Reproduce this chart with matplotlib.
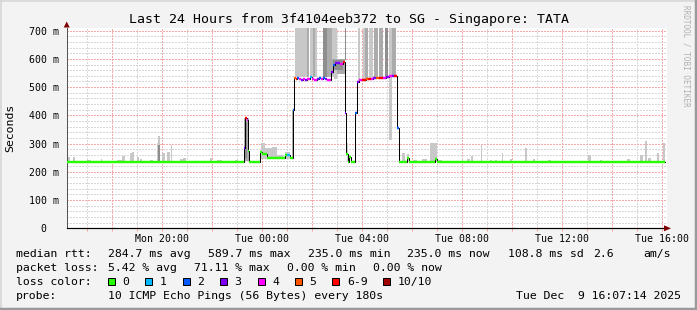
import matplotlib
matplotlib.use("Agg")
import matplotlib.pyplot as plt
from matplotlib.patches import Rectangle, Polygon
from matplotlib.lines import Line2D

W, H = 697, 310
FONT = "DejaVu Sans Mono"
plt.rcParams["font.family"] = [FONT]

# ---------------- data (hours relative to Tue 00:00) ----------------
X_START, X_END = -7.81, 16.19
END_T = 16.12

# median rtt step series: start time of each step, value (ms), loss count (of 10)
med_t = [-7.81, -0.71, -0.67, -0.61, -0.56, -0.50, -0.07, 0.00, 0.19, 0.93,
         1.00, 1.13, 1.24, 1.30, 1.36, 1.42, 1.50, 1.58, 1.66, 1.74,
         1.82, 1.92, 2.01, 2.10, 2.19, 2.28, 2.36, 2.44, 2.52, 2.60,
         2.70, 2.78, 2.85, 2.92, 3.12, 3.24, 3.33, 3.37, 3.44, 3.50,
         3.56, 3.73, 3.79, 3.88, 4.00, 4.16, 4.25, 4.36, 4.46, 4.56,
         4.68, 4.84, 4.96, 5.08, 5.20, 5.28, 5.39, 5.49, 5.79, 5.87,
         6.92, 6.99]
med_v = [236, 283, 392, 383, 273, 236, 272, 262, 248, 258,
         261, 248, 419, 531, 529, 532, 528, 526, 529, 527,
         530, 536, 530, 527, 529, 531, 528, 532, 529, 527,
         524, 555, 578, 585, 583, 589, 408, 262, 236, 254,
         236, 408, 519, 524, 527, 529, 528, 530, 531, 531,
         532, 534, 537, 539, 540, 538, 354, 236, 250, 236,
         244, 235]
med_loss = [0, 3, 6, 4, 0, 0, 0, 0, 0, 0,
            1, 0, 2, 5, 6, 2, 4, 3, 4, 3,
            4, 1, 4, 4, 3, 2, 4, 2, 3, 4,
            4, 3, 2, 3, 4, 6, 3, 0, 0, 0,
            0, 2, 3, 4, 6, 5, 6, 4, 3, 5,
            6, 4, 3, 4, 3, 6, 2, 0, 0, 0,
            0, 0]

# smoke (spread of individual pings): start, end, low, high, tone (0 light .. 2 dark)
smoke_t0 = [-7.80, -7.57, -7.00, -6.45, -5.80, -5.60, -5.28, -5.21, -5.00, -4.88,
            -4.48, -4.21, -4.17, -4.17, -4.01, -3.81, -3.64, -3.28, -3.15, -2.08,
            -1.81, -1.08, -0.72, -0.68, -0.04, 0.12, 0.39, 0.59, 0.92, 1.20,
            1.32, 1.81, 1.92, 2.03, 2.43, 2.59, 2.79, 3.32, 2.78, 2.85,
            2.90, 3.39, 3.85, 4.05, 4.12, 4.29, 4.49, 4.69, 4.92, 5.09,
            5.19, 5.59, 5.80, 6.04, 6.39, 6.72, 7.04, 7.99, 8.19, 8.36,
            8.75, 9.12, 9.32, 9.59, 9.92, 10.52, 10.84, 11.45, 13.05, 13.52,
            14.59, 15.12, 15.32, 15.45, 15.81, 16.03]
smoke_t1 = [-7.68, -7.48, -6.84, -6.40, -5.60, -5.48, -5.20, -5.12, -4.92, -4.80,
            -4.36, -4.17, -4.08, -4.08, -3.88, -3.68, -3.60, -3.16, -3.05, -2.00,
            -1.61, -0.96, -0.52, -0.58, 0.12, 0.39, 0.59, 0.84, 1.12, 1.28,
            1.81, 1.89, 2.21, 2.14, 2.59, 2.79, 3.01, 3.36, 3.33, 3.25,
            3.00, 3.45, 3.92, 4.19, 4.24, 4.45, 4.65, 4.85, 5.05, 5.19,
            5.36, 5.72, 5.88, 6.19, 6.59, 6.99, 7.19, 8.05, 8.32, 8.43,
            8.81, 9.19, 9.39, 9.65, 9.99, 10.59, 10.92, 11.55, 13.15, 13.59,
            14.72, 15.23, 15.39, 15.55, 15.89, 16.12]
smoke_lo = [237, 237, 237, 237, 237, 237, 237, 237, 237, 237,
            237, 237, 237, 237, 237, 237, 237, 237, 237, 237,
            237, 237, 237, 250, 245, 246, 246, 246, 246, 248,
            535, 535, 535, 535, 535, 535, 535, 595, 548, 560,
            530, 236, 522, 526, 526, 530, 531, 533, 537, 312,
            540, 236, 236, 236, 236, 236, 236, 236, 236, 236,
            236, 236, 236, 236, 236, 236, 236, 236, 236, 236,
            236, 236, 236, 236, 236, 236]
smoke_hi = [254, 251, 242, 245, 242, 256, 265, 270, 251, 245,
            242, 301, 327, 295, 265, 271, 295, 245, 249, 250,
            243, 242, 392, 375, 301, 285, 289, 258, 271, 420,
            720, 720, 720, 720, 720, 720, 720, 720, 600, 595,
            560, 301, 720, 720, 720, 720, 720, 720, 720, 720,
            720, 268, 262, 243, 245, 303, 243, 250, 245, 256,
            295, 243, 243, 265, 245, 283, 245, 243, 261, 242,
            245, 261, 309, 250, 265, 303]
smoke_tone = [0, 0, 0, 0, 0, 0, 0, 0, 0, 0,
              0, 0, 0, 2, 0, 0, 0, 0, 0, 0,
              0, 0, 1, 2, 0, 0, 0, 0, 0, 1,
              0, 1, 0, 1, 2, 1, 0, 2, 1, 2,
              0, 0, 0, 0, 1, 0, 1, 1, 2, 0,
              1, 0, 0, 0, 0, 0, 0, 0, 0, 0,
              0, 0, 0, 0, 0, 0, 0, 0, 0, 0,
              0, 0, 0, 0, 0, 0]

loss_colors = ["#26ff00", "#00b8ff", "#0059ff", "#7e00ff", "#ff00ff",
               "#ff5500", "#ff0000", "#a10000"]
loss_labels = ["0", "1", "2", "3", "4", "5", "6-9", "10/10"]
tone_colors = ["#c8c8c8", "#ababab", "#8e8e8e"]

y_ticks = [0, 100, 200, 300, 400, 500, 600, 700]
y_ticklabels = ["0  ", "100 m", "200 m", "300 m", "400 m", "500 m", "600 m", "700 m"]
x_ticks = [-4, 0, 4, 8, 12, 16]
x_ticklabels = ["Mon 20:00", "Tue 00:00", "Tue 04:00", "Tue 08:00", "Tue 12:00", "Tue 16:00"]

title = "Last 24 Hours from 3f4104eeb372 to SG - Singapore: TATA"
rtt_label = "median rtt:"
rtt_items = ["284.7 ms avg", "589.7 ms max", "235.0 ms min", "235.0 ms now",
             "108.8 ms sd", "2.6", "am/s"]
loss_row_label = "packet loss:"
loss_items = ["5.42 % avg", "71.11 % max", "0.00 % min", "0.00 % now"]
probe_text = "10 ICMP Echo Pings (56 Bytes) every 180s"
date_text = "Tue Dec  9 16:07:14 2025"


def loss_idx(n):
    if n >= 10:
        return 7
    if n >= 6:
        return 6
    return n


def fx(px):
    return px / W


def fy(py):
    return 1 - py / H


PX = 0.72  # one pixel in points at dpi 100

fig = plt.figure(figsize=(W / 100, H / 100), dpi=100, facecolor="#f3f3f3")

# outer 3D border
fig.add_artist(Line2D([0, 1], [fy(0.5), fy(0.5)], transform=fig.transFigure, color="#d4d4d4", lw=1.5 * PX))
fig.add_artist(Line2D([fx(0.5), fx(0.5)], [0, 1], transform=fig.transFigure, color="#d4d4d4", lw=1.5 * PX))
fig.add_artist(Line2D([0, 1], [fy(309), fy(309)], transform=fig.transFigure, color="#9a9a9a", lw=2.5 * PX))
fig.add_artist(Line2D([fx(696), fx(696)], [0, 1], transform=fig.transFigure, color="#9a9a9a", lw=2.5 * PX))

ax_l, ax_r, ax_t, ax_b = 66.7, 666.7, 28.0, 228.3
ax = fig.add_axes([fx(ax_l), fy(ax_b), (ax_r - ax_l) / W, (ax_b - ax_t) / H])
ax.set_facecolor("white")
ax.set_xlim(X_START, X_END)
ax.set_ylim(0, 709.5)

# grid (dotted)
RED_GRID = "#f7aaaa"
GRAY_GRID = "#d8d8d8"
for h in range(-7, 17):
    major = h % 2 == 0
    ax.axvline(h, color=RED_GRID if major else GRAY_GRID, lw=PX, ls=(0, (1.4, 1.4)),
               antialiased=False, zorder=0.6 if major else 0.5)
for v in range(20, 709, 20):
    major = v % 100 == 0
    ax.axhline(v, color=RED_GRID if major else GRAY_GRID, lw=PX, ls=(0, (1.4, 1.4)),
               antialiased=False, zorder=0.6 if major else 0.5)

# smoke
for t0, t1, lo, hi, tn in zip(smoke_t0, smoke_t1, smoke_lo, smoke_hi, smoke_tone):
    ax.bar(t0, hi - lo, width=t1 - t0, bottom=lo, align="edge",
           color=tone_colors[tn], linewidth=0, zorder=1)

# median: black step line, then coloured horizontals by loss
xs, ys = [], []
edges = med_t + [END_T]
for i, v in enumerate(med_v):
    xs += [edges[i], edges[i + 1]]
    ys += [v, v]
ax.plot(xs, ys, color="black", lw=1.0 * PX, zorder=2, solid_joinstyle="miter")
for i, v in enumerate(med_v):
    ax.plot([edges[i], edges[i + 1]], [v, v], color=loss_colors[loss_idx(med_loss[i])],
            lw=2.4 * PX, zorder=3, solid_capstyle="butt")

# axes styling
for s in ["top", "right"]:
    ax.spines[s].set_visible(False)
ax.spines["bottom"].set_color("black")
ax.spines["bottom"].set_linewidth(1.2 * PX)
ax.spines["left"].set_color("#555555")
ax.spines["left"].set_linewidth(1.0 * PX)
ax.spines["left"].set_bounds(0, 709.5)

ax.set_xticks(x_ticks)
ax.set_xticklabels(x_ticklabels, fontsize=7.1)
ax.set_xticks(list(range(-7, 17)), minor=True)
ax.tick_params(axis="x", which="both", length=2.2, width=PX, color="#f4a3a3", pad=1.6)
ax.set_yticks(y_ticks)
ax.set_yticklabels(y_ticklabels, fontsize=7.1)
ax.tick_params(axis="y", length=0, pad=5.5)

# axis arrows
fig.add_artist(Polygon([[fx(664), fy(225.3)], [fx(664), fy(231.3)], [fx(671), fy(228.3)]],
                       closed=True, transform=fig.transFigure, color="#7f0000", lw=0))
fig.add_artist(Polygon([[fx(63.7), fy(27.5)], [fx(69.7), fy(27.5)], [fx(66.7), fy(21.5)]],
                       closed=True, transform=fig.transFigure, color="#7f0000", lw=0))
fig.add_artist(Line2D([fx(66.7), fx(66.7)], [fy(27.5), fy(ax_t)], transform=fig.transFigure,
                      color="#555555", lw=PX))

# texts
fig.text(fx(349), fy(19), title, fontsize=9.5, ha="center", va="center")
fig.text(fx(10), fy(128), "Seconds", fontsize=8.25, rotation=90, ha="center", va="center")
fig.text(fx(686), fy(5), "RRDTOOL / TOBI OETIKER", fontsize=5.5, rotation=270,
         ha="center", va="top", color="#b0b0b0")

LF = 8.25
fig.text(fx(16), fy(254), rtt_label, fontsize=LF, va="center")
for x, s in zip([107.5, 207.5, 307.5, 407.5, 508, 593, 643], rtt_items):
    fig.text(fx(x), fy(254), s, fontsize=LF, va="center")
fig.text(fx(16), fy(268), loss_row_label, fontsize=LF, va="center")
for x, s in zip([107.5, 193.7, 287.2, 372.7], loss_items):
    fig.text(fx(x), fy(268), s, fontsize=LF, va="center")
fig.text(fx(16), fy(282), "loss color:", fontsize=LF, va="center")
sq_x = [108.0, 145.4, 182.8, 220.2, 257.6, 295.0, 332.4, 383.0]
for x, c, lab in zip(sq_x, loss_colors, loss_labels):
    fig.add_artist(Rectangle((fx(x), fy(285)), 7 / W, 7 / H, transform=fig.transFigure,
                             facecolor=c, edgecolor="black", lw=PX))
    fig.text(fx(x + 14.5), fy(282), lab, fontsize=LF, va="center")
fig.text(fx(16), fy(296), "probe:", fontsize=LF, va="center")
fig.text(fx(107.5), fy(296), probe_text, fontsize=LF, va="center")
fig.text(fx(681), fy(296), date_text, fontsize=LF, va="center", ha="right")

fig.savefig("out.png", dpi=100, facecolor=fig.get_facecolor())
